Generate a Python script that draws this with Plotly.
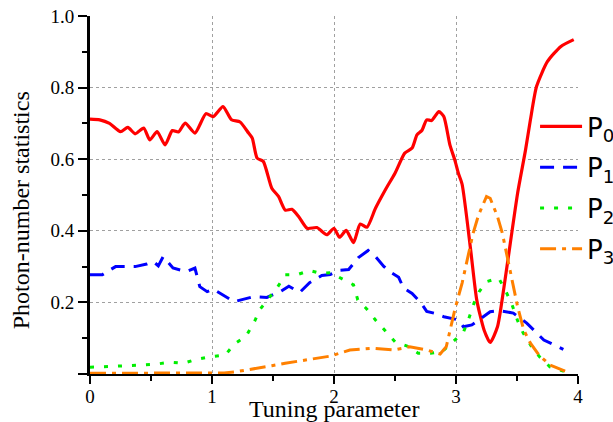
import plotly.graph_objects as go

p0_x = [0, 0.08, 0.16, 0.25, 0.31, 0.37, 0.44, 0.49, 0.55, 0.615, 0.675, 0.725, 0.78, 0.86, 0.95, 1.01,
        1.09, 1.16, 1.23, 1.30, 1.33, 1.37, 1.42, 1.49, 1.545, 1.60, 1.655, 1.71, 1.78, 1.86, 1.94, 2.00,
        2.045, 2.10, 2.16, 2.215, 2.27, 2.34, 2.42, 2.50, 2.58, 2.64, 2.68, 2.72, 2.76, 2.80, 2.86, 2.90,
        2.95, 2.99, 3.02, 3.05, 3.12, 3.17, 3.23, 3.28, 3.34, 3.39, 3.445, 3.505, 3.57, 3.61, 3.66, 3.75,
        3.86, 3.965]
p0_y = [0.712, 0.71, 0.70, 0.677, 0.689, 0.671, 0.687, 0.654, 0.677, 0.640, 0.680, 0.676, 0.701, 0.673, 0.727, 0.719,
        0.747, 0.71, 0.704, 0.673, 0.659, 0.603, 0.594, 0.519, 0.496, 0.458, 0.46, 0.44, 0.407, 0.409, 0.389, 0.407,
        0.382, 0.401, 0.367, 0.419, 0.41, 0.463, 0.514, 0.561, 0.617, 0.631, 0.668, 0.68, 0.71, 0.708, 0.733, 0.719,
        0.64, 0.598, 0.56, 0.53, 0.347, 0.207, 0.123, 0.088, 0.132, 0.235, 0.365, 0.505, 0.626, 0.71, 0.803, 0.873,
        0.915, 0.934]

p1_x = [0, 0.1, 0.16, 0.21, 0.37, 0.465, 0.52, 0.56, 0.60, 0.68, 0.79, 0.86, 0.90, 0.96, 1.01, 1.18, 1.34,
        1.45, 1.56, 1.63, 1.72, 1.80, 1.90, 1.97, 2.05, 2.12, 2.20, 2.28, 2.34, 2.41, 2.46, 2.53, 2.57, 2.64,
        2.71, 2.76, 2.82, 2.90, 3.02, 3.06, 3.13, 3.21, 3.28, 3.36, 3.47, 3.58, 3.72, 3.88]
p1_y = [0.277, 0.277, 0.29, 0.30, 0.30, 0.307, 0.314, 0.302, 0.328, 0.296, 0.286, 0.296, 0.244, 0.23, 0.237, 0.202, 0.216,
        0.214, 0.23, 0.245, 0.228, 0.255, 0.275, 0.278, 0.29, 0.292, 0.325, 0.345, 0.328, 0.30, 0.285, 0.27, 0.24, 0.225,
        0.2, 0.175, 0.17, 0.16, 0.151, 0.132, 0.137, 0.156, 0.174, 0.177, 0.17, 0.142, 0.095, 0.069]

p2_x = [0, 0.15, 0.30, 0.42, 0.53, 0.66, 0.765, 0.875, 0.98, 1.11, 1.18, 1.28, 1.35, 1.395, 1.48, 1.54, 1.60,
        1.695, 1.80, 1.89, 1.97, 2.065, 2.16, 2.195, 2.27, 2.34, 2.42, 2.50, 2.60, 2.69, 2.79, 2.885, 2.975,
        3.06, 3.10, 3.15, 3.19, 3.25, 3.35, 3.41, 3.46, 3.505, 3.55, 3.62, 3.685, 3.77, 3.90]
p2_y = [0.019, 0.02, 0.023, 0.025, 0.027, 0.033, 0.03, 0.041, 0.048, 0.053, 0.083, 0.106, 0.148, 0.181, 0.216, 0.244, 0.277,
        0.277, 0.289, 0.281, 0.283, 0.265, 0.249, 0.207, 0.181, 0.151, 0.121, 0.09, 0.078, 0.058, 0.058, 0.062, 0.09,
        0.116, 0.15, 0.2, 0.23, 0.258, 0.268, 0.23, 0.193, 0.149, 0.115, 0.076, 0.048, 0.02, 0.006]

p3_x = [0, 0.5, 1.0, 1.1, 1.19, 1.38, 1.49, 1.60, 1.72, 1.97, 2.13, 2.32, 2.49, 2.62, 2.76, 2.87, 2.92, 2.95,
        2.99, 3.05, 3.095, 3.14, 3.185, 3.25, 3.28, 3.34, 3.38, 3.42, 3.46, 3.505, 3.555, 3.61, 3.68, 3.77, 3.91]
p3_y = [0.002, 0.002, 0.003, 0.003, 0.006, 0.016, 0.023, 0.03, 0.036, 0.05, 0.067, 0.072, 0.067, 0.076, 0.067, 0.056, 0.076, 0.118,
        0.179, 0.254, 0.328, 0.393, 0.444, 0.496, 0.491, 0.44, 0.393, 0.328, 0.254, 0.188, 0.123, 0.086, 0.053, 0.025, 0.006]

names = ["P<sub>0</sub>", "P<sub>1</sub>", "P<sub>2</sub>", "P<sub>3</sub>"]
x_grid = [1, 2, 3]
y_grid = [0.2, 0.4, 0.6, 0.8]
y_label_alias = {"0.0": ""}

fig = go.Figure()
fig.add_trace(go.Scatter(x=p0_x, y=p0_y, mode="lines", name=names[0], legendgroup="a",
                         line=dict(color="#ff0000", width=3.2, shape="spline", smoothing=0.6)))
fig.add_trace(go.Scatter(x=p1_x, y=p1_y, mode="lines", name=names[1], legendgroup="b",
                         line=dict(color="#0000ff", width=3, dash="14px,9px")))
fig.add_trace(go.Scatter(x=p2_x, y=p2_y, mode="lines", name=names[2], legendgroup="c",
                         line=dict(color="#00ee00", width=3, dash="4px,10px")))
fig.add_trace(go.Scatter(x=p3_x, y=p3_y, mode="lines", name=names[3], legendgroup="d",
                         line=dict(color="#ff8000", width=3, dash="16px,6px,4px,6px")))
# invisible trace to carry the grid axes
fig.add_trace(go.Scatter(x=[0, 4], y=[0, 1], xaxis="x2", yaxis="y2", mode="markers",
                         marker=dict(opacity=0), showlegend=False, hoverinfo="skip"))

serif = "Liberation Serif"
fig.update_layout(
    width=613, height=422,
    margin=dict(l=90, r=35, t=16, b=48, autoexpand=False),
    paper_bgcolor="white", plot_bgcolor="rgba(0,0,0,0)",
    font=dict(family=serif, color="black"),
    showlegend=True,
    legend=dict(x=0.912, y=0.757, xanchor="left", yanchor="top", bgcolor="rgba(0,0,0,0)",
                font=dict(family="DejaVu Sans", size=26, color="black"),
                tracegroupgap=4, itemwidth=42),
    xaxis=dict(range=[0, 4], tickmode="linear", tick0=0, dtick=1, ticks="outside", ticklen=8, tickwidth=2,
               tickcolor="black", ticklabelstandoff=-4,
               showline=True, linecolor="black", linewidth=2, showgrid=False, zeroline=False,
               tickfont=dict(family=serif, size=19, color="black"),
               minor=dict(dtick=0.5, tick0=0, ticks="outside", ticklen=5, tickwidth=2, tickcolor="black",
                          showgrid=False)),
    yaxis=dict(range=[0, 1.0], tickmode="linear", tick0=0, dtick=0.2, tickformat=".1f",
               labelalias=y_label_alias, ticks="outside", ticklen=9, tickwidth=2, tickcolor="black",
               showline=True, linecolor="black", linewidth=3, showgrid=False, zeroline=False,
               tickfont=dict(family=serif, size=19, color="black"),
               minor=dict(dtick=0.1, tick0=0, ticks="outside", ticklen=5, tickwidth=2, tickcolor="black",
                          showgrid=False)),
    xaxis2=dict(range=[0, 4], overlaying="x", tickvals=x_grid, showticklabels=False, ticks="",
                showgrid=True, gridcolor="#a0a0a0", griddash="3px,3px", gridwidth=1, zeroline=False,
                showline=False, layer="below traces"),
    yaxis2=dict(range=[0, 1.0], overlaying="y", tickvals=y_grid, showticklabels=False, ticks="",
                showgrid=True, gridcolor="#a0a0a0", griddash="3px,3px", gridwidth=1, zeroline=False,
                showline=False),
    annotations=[
        dict(text="Photon-number statistics", xref="paper", yref="paper", x=-0.141, y=0.458,
             textangle=-90, showarrow=False, xanchor="center", yanchor="middle",
             font=dict(family=serif, size=24, color="black")),
        dict(text="Tuning parameter", xref="paper", yref="paper", x=0.5, y=-0.099,
             showarrow=False, xanchor="center", yanchor="middle",
             font=dict(family=serif, size=24, color="black")),
    ],
)
fig.write_html("out.html")
